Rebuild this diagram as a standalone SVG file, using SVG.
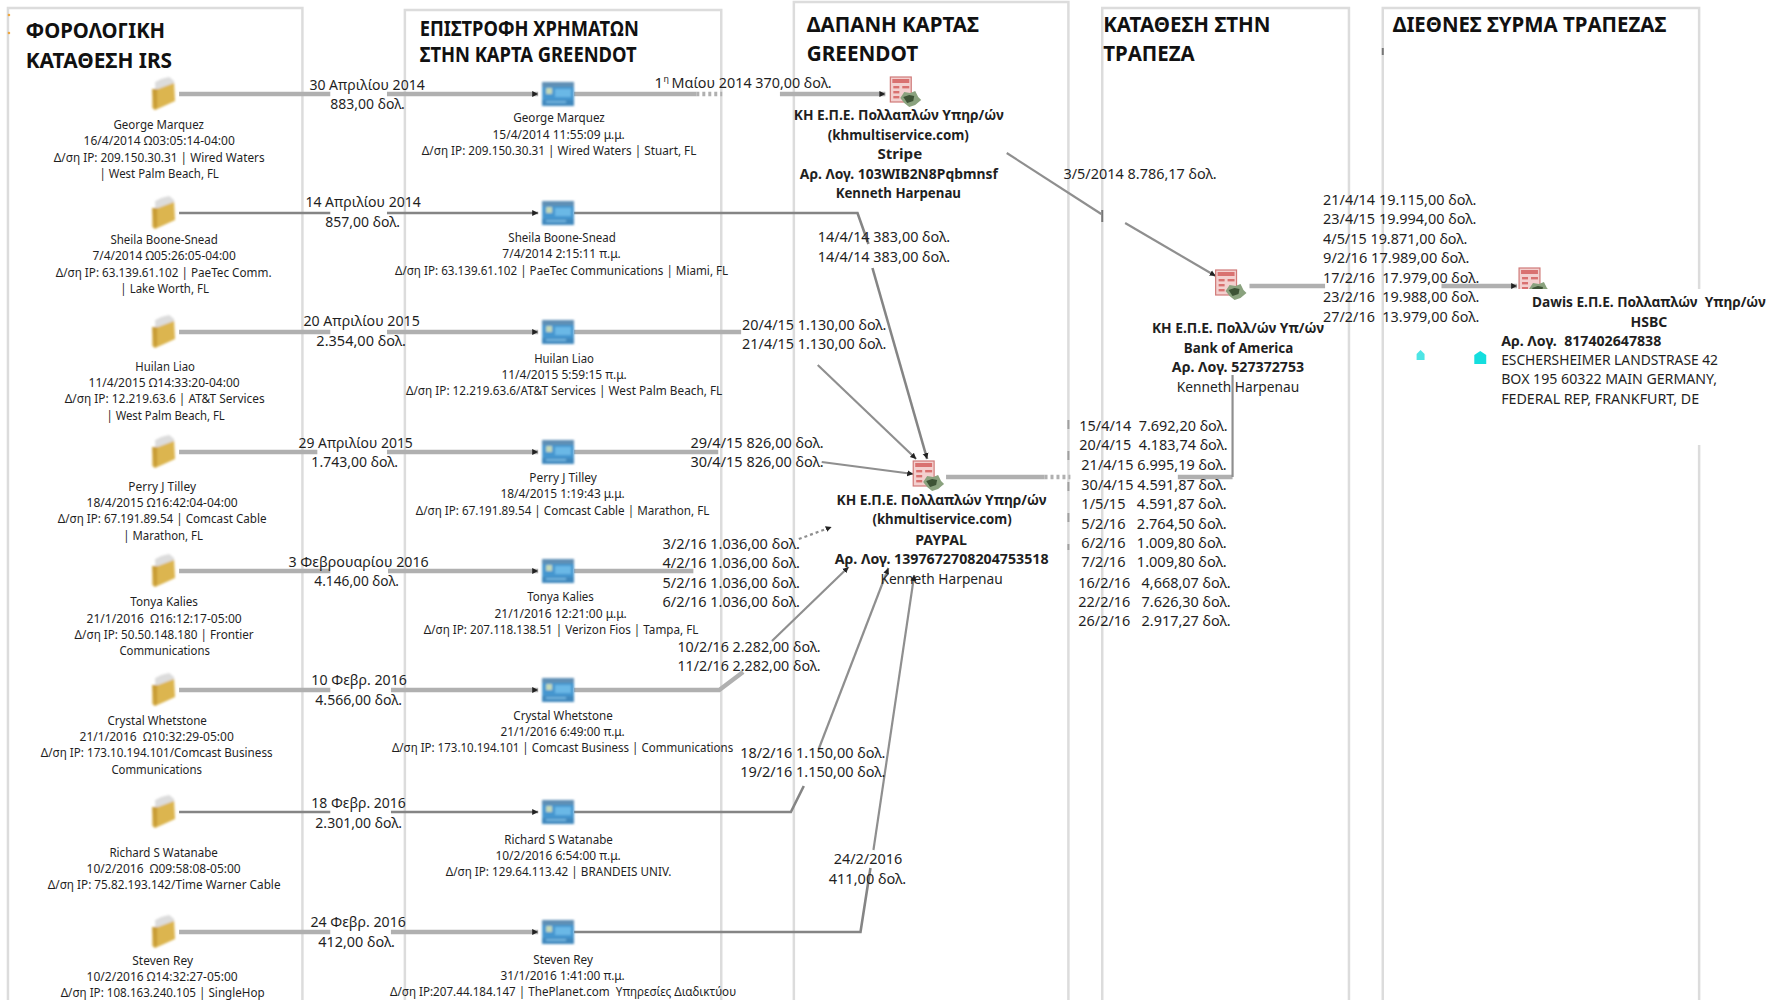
<svg xmlns="http://www.w3.org/2000/svg" xmlns:xlink="http://www.w3.org/1999/xlink" width="1778" height="1000" viewBox="0 0 1778 1000">
<style>
text{font-family:"Noto Sans","Open Sans",sans-serif;fill:#1f1f1f}
.s{font-size:12.5px}
.m{font-size:15px}
.b{font-size:14.5px;font-weight:700}
.n{font-size:14.5px}
.t{font-size:21px;font-weight:700;fill:#111}
.col{fill:none;stroke:#dcdcdc;stroke-width:2.5}
.c1{fill:none;stroke:#b0b0b0;stroke-width:4.4}
.c2{fill:none;stroke:#858585;stroke-width:2.6}
.c3{fill:none;stroke:#8f8f8f;stroke-width:2.2}
.a{marker-end:url(#ah)}
.dot{stroke-dasharray:3 3}
</style>
<defs>
<filter id="soft" x="-10%" y="-10%" width="120%" height="120%"><feGaussianBlur stdDeviation="0.6"/></filter>
<filter id="soft2" x="-20%" y="-20%" width="140%" height="140%"><feGaussianBlur stdDeviation="0.9"/></filter>
<marker id="ah" markerUnits="userSpaceOnUse" markerWidth="10" markerHeight="10" refX="6" refY="4.5" orient="auto"><path d="M0 1.5 L6 4.5 L0 7.5Z" fill="#222"/></marker>
<symbol id="folder" overflow="visible"><g filter="url(#soft2)"><path d="M-8 -12 L-2 -15 L6 -17 L11 -13 L11 2 L-8 8Z" fill="#dcdcdc"/><path d="M-11 -5 L-5 -5 L11 -11 L12 7 L-8 16 L-11 14Z" fill="#dcb550"/><path d="M-11 -5 L-6 -5 L-6 13 L-9 16Z" fill="#c89c34"/></g></symbol>
<symbol id="card" overflow="visible"><g filter="url(#soft2)"><rect x="-16" y="-12" width="32" height="24" rx="1.5" fill="#4596cf"/><rect x="-16" y="-12" width="32" height="5" fill="#5f8fb5"/><rect x="-12" y="-6" width="6" height="6" fill="#c4d9b8"/><rect x="-3" y="-5" width="16" height="8" fill="#6ab8e6"/><rect x="-16" y="6" width="32" height="6" fill="#3f88bd"/><rect x="-12" y="7" width="20" height="2" fill="#73b6e0"/></g></symbol>
<symbol id="doc" overflow="visible"><g filter="url(#soft)"><rect x="-11" y="-13" width="21" height="25" fill="#f3d0cf" stroke="#d07a78" stroke-width="1.2"/><rect x="-9" y="-11" width="17" height="4" fill="#d9716f"/><rect x="-8" y="-4" width="6" height="2.4" fill="#d9716f"/><rect x="1" y="-4" width="7" height="2.4" fill="#d9716f"/><rect x="-8" y="1" width="6" height="2.4" fill="#d9716f"/><rect x="-8" y="6" width="6" height="2.4" fill="#d9716f"/><path d="M-1 8 L3 2 L9 3 L14 1 L17 7 L20 10 L14 15 L8 17 L3 13Z" fill="#8aa27e"/><path d="M2 7 L8 5 L13 6 L12 11 L6 13Z" fill="#3c5236"/></g></symbol>
<clipPath id="cut"><rect x="1500" y="250" width="100" height="39"/></clipPath>
</defs>
<rect width="1778" height="1000" fill="#fff"/>
<g id="diagram" transform="scale(.9948 1)">

<g id="frames" filter="url(#soft)">
<path class="col" d="M8 1000V8H304V1000"/>
<path class="col" d="M407 1000V10H725V1000"/>
<path class="col" d="M798 1000V2H1074V1000"/>
<path class="col" d="M1108 1000V8H1356V1000"/>
<path class="col" d="M1390 1000V8H1708V289M1708 445V1000"/>
<path d="M1074 420V550" fill="none" stroke="#a0a0a0" stroke-width="2" stroke-dasharray="9 22"/>
<path d="M1108 210V222M1390 48V55" fill="none" stroke="#777" stroke-width="2"/>
<circle cx="9" cy="15" r="1.3" fill="#f0a840"/><circle cx="9" cy="33" r="1.3" fill="#f0a840"/>
</g>

<g id="titles">
<text class="t" x="26" y="38" textLength="140" lengthAdjust="spacingAndGlyphs">ΦΟΡΟΛΟΓΙΚΗ</text>
<text class="t" x="26" y="68" textLength="147" lengthAdjust="spacingAndGlyphs">ΚΑΤΑΘΕΣΗ IRS</text>
<text class="t" x="422" y="36" textLength="220" lengthAdjust="spacingAndGlyphs">ΕΠΙΣΤΡΟΦΗ ΧΡΗΜΑΤΩΝ</text>
<text class="t" x="422" y="62" textLength="218" lengthAdjust="spacingAndGlyphs">ΣΤΗΝ ΚΑΡΤΑ GREENDOT</text>
<text class="t" x="811" y="32" textLength="173" lengthAdjust="spacingAndGlyphs">ΔΑΠΑΝΗ ΚΑΡΤΑΣ</text>
<text class="t" x="811" y="61" textLength="112" lengthAdjust="spacingAndGlyphs">GREENDOT</text>
<text class="t" x="1109" y="32" textLength="168" lengthAdjust="spacingAndGlyphs">ΚΑΤΑΘΕΣΗ ΣΤΗΝ</text>
<text class="t" x="1109" y="61" textLength="92" lengthAdjust="spacingAndGlyphs">ΤΡΑΠΕΖΑ</text>
<text class="t" x="1400" y="32" textLength="275" lengthAdjust="spacingAndGlyphs">ΔΙΕΘΝΕΣ ΣΥΡΜΑ ΤΡΑΠΕΖΑΣ</text>
</g>

<g id="connectors">
<g filter="url(#soft)">
<path class="c1" d="M180 94H332"/><path class="c1 a" d="M389 94H541"/>
<path class="c2" d="M180 213H332"/><path class="c2 a" d="M389 213H541"/>
<path class="c1" d="M180 332H332"/><path class="c1 a" d="M389 332H541"/>
<path class="c1" d="M180 452H319"/><path class="c1 a" d="M389 452H541"/>
<path class="c1" d="M180 571H332"/><path class="c1 a" d="M390 571H541"/>
<path class="c1" d="M180 690H332"/><path class="c1 a" d="M393 690H541"/>
<path class="c2" d="M180 812H332"/><path class="c2 a" d="M393 812H541"/>
<path class="c1" d="M180 932H332"/><path class="c1 a" d="M393 932H541"/>

<path class="c1" d="M577 94H700"/><path class="c1 dot" d="M700 94H726"/><path class="c1 a" d="M784 94H890"/>
<path class="c2" d="M577 213H862L873 244"/><path class="c2 a" d="M877 268L932 459"/>
<path class="c1" d="M577 332H745"/><path class="c3 a" d="M822 365L921 459"/>
<path class="c1" d="M577 452H722"/><path class="c3 a" d="M826 462L918 474"/>
<path class="c1" d="M577 571H697"/><path class="c3 dot a" d="M803 539L836 527"/>
<path class="c1" d="M577 690H723L747 672"/><path class="c3 a" d="M776 641L853 567"/>
<path class="c2" d="M577 812H795L808 786"/><path class="c3 a" d="M823 749L893 568"/>
<path class="c2" d="M577 932H865L875 868"/><path class="c3 a" d="M878 850L919 575"/>

<path class="c3" d="M1012 153L1107 214"/><path class="c3 a" d="M1131 223L1222 276"/>
<path class="c1" d="M951 477H1050"/><path class="c1 dot" d="M1050 477H1076"/>
<path class="c1" d="M1184 477H1239"/><path class="c3" d="M1239 477V375"/>
<path class="c1" d="M1256 286H1332"/>
<path class="c1 a" d="M1449 286H1525"/>
</g>
<g id="edge-labels">
<text class="m" x="311" y="90" textLength="116" lengthAdjust="spacingAndGlyphs">30 Απριλίου 2014</text>
<text class="m" x="332" y="109" textLength="75" lengthAdjust="spacingAndGlyphs">883,00 δολ.</text>
<text class="m" x="307" y="207" textLength="116" lengthAdjust="spacingAndGlyphs">14 Απριλίου 2014</text>
<text class="m" x="327" y="227" textLength="75" lengthAdjust="spacingAndGlyphs">857,00 δολ.</text>
<text class="m" x="305" y="326" textLength="117" lengthAdjust="spacingAndGlyphs">20 Απριλίου 2015</text>
<text class="m" x="318" y="346" textLength="90" lengthAdjust="spacingAndGlyphs">2.354,00 δολ.</text>
<text class="m" x="300" y="448" textLength="115" lengthAdjust="spacingAndGlyphs">29 Απριλίου 2015</text>
<text class="m" x="313" y="467" textLength="87" lengthAdjust="spacingAndGlyphs">1.743,00 δολ.</text>
<text class="m" x="290" y="567" textLength="141" lengthAdjust="spacingAndGlyphs">3 Φεβρουαρίου 2016</text>
<text class="m" x="316" y="586" textLength="85" lengthAdjust="spacingAndGlyphs">4.146,00 δολ.</text>
<text class="m" x="313" y="685" textLength="96" lengthAdjust="spacingAndGlyphs">10 Φεβρ. 2016</text>
<text class="m" x="317" y="705" textLength="87" lengthAdjust="spacingAndGlyphs">4.566,00 δολ.</text>
<text class="m" x="313" y="808" textLength="95" lengthAdjust="spacingAndGlyphs">18 Φεβρ. 2016</text>
<text class="m" x="317" y="828" textLength="87" lengthAdjust="spacingAndGlyphs">2.301,00 δολ.</text>
<text class="m" x="312" y="927" textLength="96" lengthAdjust="spacingAndGlyphs">24 Φεβρ. 2016</text>
<text class="m" x="320" y="947" textLength="77" lengthAdjust="spacingAndGlyphs">412,00 δολ.</text>

<text class="m" x="658" y="88">1</text><text class="s" x="667" y="82" style="font-size:9px">η</text>
<text class="m" x="675" y="88" textLength="161" lengthAdjust="spacingAndGlyphs">Μαίου 2014 370,00 δολ.</text>
<text class="m" x="822" y="242" textLength="133" lengthAdjust="spacingAndGlyphs">14/4/14 383,00 δολ.</text>
<text class="m" x="822" y="262" textLength="133" lengthAdjust="spacingAndGlyphs">14/4/14 383,00 δολ.</text>
<text class="m" x="746" y="330" textLength="145" lengthAdjust="spacingAndGlyphs">20/4/15 1.130,00 δολ.</text>
<text class="m" x="746" y="349" textLength="145" lengthAdjust="spacingAndGlyphs">21/4/15 1.130,00 δολ.</text>
<text class="m" x="694" y="448" textLength="134" lengthAdjust="spacingAndGlyphs">29/4/15 826,00 δολ.</text>
<text class="m" x="694" y="467" textLength="134" lengthAdjust="spacingAndGlyphs">30/4/15 826,00 δολ.</text>
<text class="m" x="666" y="549" textLength="138" lengthAdjust="spacingAndGlyphs">3/2/16 1.036,00 δολ.</text>
<text class="m" x="666" y="568" textLength="138" lengthAdjust="spacingAndGlyphs">4/2/16 1.036,00 δολ.</text>
<text class="m" x="666" y="588" textLength="138" lengthAdjust="spacingAndGlyphs">5/2/16 1.036,00 δολ.</text>
<text class="m" x="666" y="607" textLength="138" lengthAdjust="spacingAndGlyphs">6/2/16 1.036,00 δολ.</text>
<text class="m" x="681" y="652" textLength="144" lengthAdjust="spacingAndGlyphs">10/2/16 2.282,00 δολ.</text>
<text class="m" x="681" y="671" textLength="144" lengthAdjust="spacingAndGlyphs">11/2/16 2.282,00 δολ.</text>
<text class="m" x="744" y="758" textLength="146" lengthAdjust="spacingAndGlyphs">18/2/16 1.150,00 δολ.</text>
<text class="m" x="744" y="777" textLength="146" lengthAdjust="spacingAndGlyphs">19/2/16 1.150,00 δολ.</text>
<text class="m" x="838" y="864" textLength="69" lengthAdjust="spacingAndGlyphs">24/2/2016</text>
<text class="m" x="833" y="884" textLength="78" lengthAdjust="spacingAndGlyphs">411,00 δολ.</text>
<text class="m" x="1069" y="179" textLength="154" lengthAdjust="spacingAndGlyphs">3/5/2014 8.786,17 δολ.</text>

<text class="m" x="1330" y="205" textLength="154" lengthAdjust="spacingAndGlyphs">21/4/14 19.115,00 δολ.</text>
<text class="m" x="1330" y="224" textLength="154" lengthAdjust="spacingAndGlyphs">23/4/15 19.994,00 δολ.</text>
<text class="m" x="1330" y="244" textLength="145" lengthAdjust="spacingAndGlyphs">4/5/15 19.871,00 δολ.</text>
<text class="m" x="1330" y="263" textLength="147" lengthAdjust="spacingAndGlyphs">9/2/16 17.989,00 δολ.</text>
<text class="m" x="1330" y="283" textLength="157" lengthAdjust="spacingAndGlyphs" xml:space="preserve">17/2/16  17.979,00 δολ.</text>
<text class="m" x="1330" y="302" textLength="157" lengthAdjust="spacingAndGlyphs" xml:space="preserve">23/2/16  19.988,00 δολ.</text>
<text class="m" x="1330" y="322" textLength="157" lengthAdjust="spacingAndGlyphs" xml:space="preserve">27/2/16  13.979,00 δολ.</text>

<text class="m" x="1085" y="431" textLength="149" lengthAdjust="spacingAndGlyphs" xml:space="preserve">15/4/14  7.692,20 δολ.</text>
<text class="m" x="1085" y="450" textLength="149" lengthAdjust="spacingAndGlyphs" xml:space="preserve">20/4/15  4.183,74 δολ.</text>
<text class="m" x="1087" y="470" textLength="146" lengthAdjust="spacingAndGlyphs">21/4/15 6.995,19 δολ.</text>
<text class="m" x="1087" y="490" textLength="146" lengthAdjust="spacingAndGlyphs">30/4/15 4.591,87 δολ.</text>
<text class="m" x="1087" y="509" textLength="146" lengthAdjust="spacingAndGlyphs" xml:space="preserve">1/5/15   4.591,87 δολ.</text>
<text class="m" x="1087" y="529" textLength="146" lengthAdjust="spacingAndGlyphs" xml:space="preserve">5/2/16   2.764,50 δολ.</text>
<text class="m" x="1087" y="548" textLength="146" lengthAdjust="spacingAndGlyphs" xml:space="preserve">6/2/16   1.009,80 δολ.</text>
<text class="m" x="1087" y="567" textLength="146" lengthAdjust="spacingAndGlyphs" xml:space="preserve">7/2/16   1.009,80 δολ.</text>
<text class="m" x="1084" y="588" textLength="153" lengthAdjust="spacingAndGlyphs" xml:space="preserve">16/2/16   4,668,07 δολ.</text>
<text class="m" x="1084" y="607" textLength="153" lengthAdjust="spacingAndGlyphs" xml:space="preserve">22/2/16   7.626,30 δολ.</text>
<text class="m" x="1084" y="626" textLength="153" lengthAdjust="spacingAndGlyphs" xml:space="preserve">26/2/16   2.917,27 δολ.</text>
</g>
</g>

<g id="tax-1"><use xlink:href="#folder" href="#folder" x="164" y="94"/>
<text class="s" x="114" y="129" textLength="91" lengthAdjust="spacingAndGlyphs">George Marquez</text>
<text class="s" x="84" y="145" textLength="152" lengthAdjust="spacingAndGlyphs">16/4/2014 Ω03:05:14-04:00</text>
<text class="s" x="54" y="162" textLength="212" lengthAdjust="spacingAndGlyphs">Δ/ση IP: 209.150.30.31 | Wired Waters</text>
<text class="s" x="100" y="178" textLength="120" lengthAdjust="spacingAndGlyphs">| West Palm Beach, FL</text></g>
<g id="tax-2"><use xlink:href="#folder" href="#folder" x="164" y="213"/>
<text class="s" x="111" y="244" textLength="108" lengthAdjust="spacingAndGlyphs">Sheila Boone-Snead</text>
<text class="s" x="93" y="260" textLength="144" lengthAdjust="spacingAndGlyphs">7/4/2014 Ω05:26:05-04:00</text>
<text class="s" x="56" y="277" textLength="217" lengthAdjust="spacingAndGlyphs">Δ/ση IP: 63.139.61.102 | PaeTec Comm.</text>
<text class="s" x="121" y="293" textLength="89" lengthAdjust="spacingAndGlyphs">| Lake Worth, FL</text></g>
<g id="tax-3"><use xlink:href="#folder" href="#folder" x="164" y="332"/>
<text class="s" x="136" y="371" textLength="60" lengthAdjust="spacingAndGlyphs">Huilan Liao</text>
<text class="s" x="89" y="387" textLength="152" lengthAdjust="spacingAndGlyphs">11/4/2015 Ω14:33:20-04:00</text>
<text class="s" x="65" y="403" textLength="201" lengthAdjust="spacingAndGlyphs">Δ/ση IP: 12.219.63.6 | AT&amp;T Services</text>
<text class="s" x="107" y="420" textLength="119" lengthAdjust="spacingAndGlyphs">| West Palm Beach, FL</text></g>
<g id="tax-4"><use xlink:href="#folder" href="#folder" x="164" y="452"/>
<text class="s" x="129" y="491" textLength="68" lengthAdjust="spacingAndGlyphs">Perry J Tilley</text>
<text class="s" x="87" y="507" textLength="152" lengthAdjust="spacingAndGlyphs">18/4/2015 Ω16:42:04-04:00</text>
<text class="s" x="58" y="523" textLength="210" lengthAdjust="spacingAndGlyphs">Δ/ση IP: 67.191.89.54 | Comcast Cable</text>
<text class="s" x="124" y="540" textLength="80" lengthAdjust="spacingAndGlyphs">| Marathon, FL</text></g>
<g id="tax-5"><use xlink:href="#folder" href="#folder" x="164" y="571"/>
<text class="s" x="131" y="606" textLength="68" lengthAdjust="spacingAndGlyphs">Tonya Kalies</text>
<text class="s" x="87" y="623" textLength="156" lengthAdjust="spacingAndGlyphs" xml:space="preserve">21/1/2016  Ω16:12:17-05:00</text>
<text class="s" x="75" y="639" textLength="180" lengthAdjust="spacingAndGlyphs">Δ/ση IP: 50.50.148.180 | Frontier</text>
<text class="s" x="120" y="655" textLength="91" lengthAdjust="spacingAndGlyphs">Communications</text></g>
<g id="tax-6"><use xlink:href="#folder" href="#folder" x="164" y="690"/>
<text class="s" x="108" y="725" textLength="100" lengthAdjust="spacingAndGlyphs">Crystal Whetstone</text>
<text class="s" x="80" y="741" textLength="155" lengthAdjust="spacingAndGlyphs" xml:space="preserve">21/1/2016  Ω10:32:29-05:00</text>
<text class="s" x="41" y="757" textLength="233" lengthAdjust="spacingAndGlyphs">Δ/ση IP: 173.10.194.101/Comcast Business</text>
<text class="s" x="112" y="774" textLength="91" lengthAdjust="spacingAndGlyphs">Communications</text></g>
<g id="tax-7"><use xlink:href="#folder" href="#folder" x="164" y="812"/>
<text class="s" x="110" y="857" textLength="109" lengthAdjust="spacingAndGlyphs">Richard S Watanabe</text>
<text class="s" x="87" y="873" textLength="155" lengthAdjust="spacingAndGlyphs" xml:space="preserve">10/2/2016  Ω09:58:08-05:00</text>
<text class="s" x="48" y="889" textLength="234" lengthAdjust="spacingAndGlyphs">Δ/ση IP: 75.82.193.142/Time Warner Cable</text></g>
<g id="tax-8"><use xlink:href="#folder" href="#folder" x="164" y="932"/>
<text class="s" x="133" y="965" textLength="61" lengthAdjust="spacingAndGlyphs">Steven Rey</text>
<text class="s" x="87" y="981" textLength="152" lengthAdjust="spacingAndGlyphs">10/2/2016 Ω14:32:27-05:00</text>
<text class="s" x="61" y="997" textLength="205" lengthAdjust="spacingAndGlyphs">Δ/ση IP: 108.163.240.105 | SingleHop</text></g>

<g id="card-1"><use xlink:href="#card" href="#card" x="561" y="94"/>
<text class="s" x="516" y="122" textLength="92" lengthAdjust="spacingAndGlyphs">George Marquez</text>
<text class="s" x="495" y="139" textLength="133" lengthAdjust="spacingAndGlyphs">15/4/2014 11:55:09 μ.μ.</text>
<text class="s" x="424" y="155" textLength="276" lengthAdjust="spacingAndGlyphs">Δ/ση IP: 209.150.30.31 | Wired Waters | Stuart, FL</text></g>
<g id="card-2"><use xlink:href="#card" href="#card" x="561" y="213"/>
<text class="s" x="511" y="242" textLength="108" lengthAdjust="spacingAndGlyphs">Sheila Boone-Snead</text>
<text class="s" x="505" y="258" textLength="119" lengthAdjust="spacingAndGlyphs">7/4/2014 2:15:11 π.μ.</text>
<text class="s" x="397" y="275" textLength="335" lengthAdjust="spacingAndGlyphs">Δ/ση IP: 63.139.61.102 | PaeTec Communications | Miami, FL</text></g>
<g id="card-3"><use xlink:href="#card" href="#card" x="561" y="332"/>
<text class="s" x="537" y="363" textLength="60" lengthAdjust="spacingAndGlyphs">Huilan Liao</text>
<text class="s" x="504" y="379" textLength="126" lengthAdjust="spacingAndGlyphs">11/4/2015 5:59:15 π.μ.</text>
<text class="s" x="408" y="395" textLength="318" lengthAdjust="spacingAndGlyphs">Δ/ση IP: 12.219.63.6/AT&amp;T Services | West Palm Beach, FL</text></g>
<g id="card-4"><use xlink:href="#card" href="#card" x="561" y="452"/>
<text class="s" x="532" y="482" textLength="68" lengthAdjust="spacingAndGlyphs">Perry J Tilley</text>
<text class="s" x="503" y="498" textLength="125" lengthAdjust="spacingAndGlyphs">18/4/2015 1:19:43 μ.μ.</text>
<text class="s" x="418" y="515" textLength="295" lengthAdjust="spacingAndGlyphs">Δ/ση IP: 67.191.89.54 | Comcast Cable | Marathon, FL</text></g>
<g id="card-5"><use xlink:href="#card" href="#card" x="561" y="571"/>
<text class="s" x="530" y="601" textLength="67" lengthAdjust="spacingAndGlyphs">Tonya Kalies</text>
<text class="s" x="497" y="618" textLength="133" lengthAdjust="spacingAndGlyphs">21/1/2016 12:21:00 μ.μ.</text>
<text class="s" x="426" y="634" textLength="276" lengthAdjust="spacingAndGlyphs">Δ/ση IP: 207.118.138.51 | Verizon Fios | Tampa, FL</text></g>
<g id="card-6"><use xlink:href="#card" href="#card" x="561" y="690"/>
<text class="s" x="516" y="720" textLength="100" lengthAdjust="spacingAndGlyphs">Crystal Whetstone</text>
<text class="s" x="503" y="736" textLength="125" lengthAdjust="spacingAndGlyphs">21/1/2016 6:49:00 π.μ.</text>
<text class="s" x="394" y="752" textLength="343" lengthAdjust="spacingAndGlyphs">Δ/ση IP: 173.10.194.101 | Comcast Business | Communications</text></g>
<g id="card-7"><use xlink:href="#card" href="#card" x="561" y="812"/>
<text class="s" x="507" y="844" textLength="109" lengthAdjust="spacingAndGlyphs">Richard S Watanabe</text>
<text class="s" x="498" y="860" textLength="126" lengthAdjust="spacingAndGlyphs">10/2/2016 6:54:00 π.μ.</text>
<text class="s" x="448" y="876" textLength="227" lengthAdjust="spacingAndGlyphs">Δ/ση IP: 129.64.113.42 | BRANDEIS UNIV.</text></g>
<g id="card-8"><use xlink:href="#card" href="#card" x="561" y="932"/>
<text class="s" x="536" y="964" textLength="60" lengthAdjust="spacingAndGlyphs">Steven Rey</text>
<text class="s" x="503" y="980" textLength="125" lengthAdjust="spacingAndGlyphs">31/1/2016 1:41:00 π.μ.</text>
<text class="s" x="392" y="996" textLength="348" lengthAdjust="spacingAndGlyphs" xml:space="preserve">Δ/ση IP:207.44.184.147 | ThePlanet.com  Υπηρεσίες Διαδικτύου</text></g>

<g id="stripe"><use xlink:href="#doc" href="#doc" x="906" y="90"/>
<text class="b" x="798" y="120" textLength="211" lengthAdjust="spacingAndGlyphs">ΚΗ Ε.Π.Ε. Πολλαπλών Υπηρ/ών</text>
<text class="b" x="832" y="140" textLength="142" lengthAdjust="spacingAndGlyphs">(khmultiservice.com)</text>
<text class="b" x="882" y="159" textLength="45" lengthAdjust="spacingAndGlyphs">Stripe</text>
<text class="b" x="804" y="179" textLength="199" lengthAdjust="spacingAndGlyphs">Αρ. Λογ. 103WIB2N8Pqbmnsf</text>
<text class="b" x="840" y="198" textLength="126" lengthAdjust="spacingAndGlyphs">Kenneth Harpenau</text></g>
<g id="paypal"><use xlink:href="#doc" href="#doc" x="929" y="474"/>
<text class="b" x="841" y="505" textLength="211" lengthAdjust="spacingAndGlyphs">ΚΗ Ε.Π.Ε. Πολλαπλών Υπηρ/ών</text>
<text class="b" x="877" y="524" textLength="140" lengthAdjust="spacingAndGlyphs">(khmultiservice.com)</text>
<text class="b" x="920" y="545" textLength="52" lengthAdjust="spacingAndGlyphs">PAYPAL</text>
<text class="b" x="839" y="564" textLength="215" lengthAdjust="spacingAndGlyphs">Αρ. Λογ. 1397672708204753518</text>
<text class="n" x="885" y="584" textLength="123" lengthAdjust="spacingAndGlyphs">Kenneth Harpenau</text></g>
<g id="bank"><use xlink:href="#doc" href="#doc" x="1233" y="283"/>
<text class="b" x="1158" y="333" textLength="173" lengthAdjust="spacingAndGlyphs">ΚΗ Ε.Π.Ε. Πολλ/ών Υπ/ών</text>
<text class="b" x="1190" y="353" textLength="110" lengthAdjust="spacingAndGlyphs">Bank of America</text>
<text class="b" x="1178" y="372" textLength="133" lengthAdjust="spacingAndGlyphs">Αρ. Λογ. 527372753</text>
<text class="n" x="1183" y="392" textLength="123" lengthAdjust="spacingAndGlyphs">Kenneth Harpenau</text></g>
<g id="dawis"><g clip-path="url(#cut)"><use xlink:href="#doc" href="#doc" x="1538" y="281"/></g>
<text class="b" x="1540" y="307" textLength="235" lengthAdjust="spacingAndGlyphs" xml:space="preserve">Dawis Ε.Π.Ε. Πολλαπλών  Υπηρ/ών</text>
<text class="b" x="1639" y="327" textLength="37" lengthAdjust="spacingAndGlyphs">HSBC</text>
<text class="b" x="1509" y="346" textLength="161" lengthAdjust="spacingAndGlyphs" xml:space="preserve">Αρ. Λογ.  817402647838</text>
<text class="n" x="1509" y="365" textLength="218" lengthAdjust="spacingAndGlyphs">ESCHERSHEIMER LANDSTRASE 42</text>
<text class="n" x="1509" y="384" textLength="217" lengthAdjust="spacingAndGlyphs">BOX 195 60322 MAIN GERMANY,</text>
<text class="n" x="1509" y="404" textLength="199" lengthAdjust="spacingAndGlyphs">FEDERAL REP, FRANKFURT, DE</text></g>
<g id="cyan-marks">
<path d="M1428 350L1432 354V360H1424V354Z" fill="#22dede" opacity=".8"/>
<path d="M1488 351L1494 355V364H1482V355Z" fill="#14dede"/>
</g>
</g>
</svg>
